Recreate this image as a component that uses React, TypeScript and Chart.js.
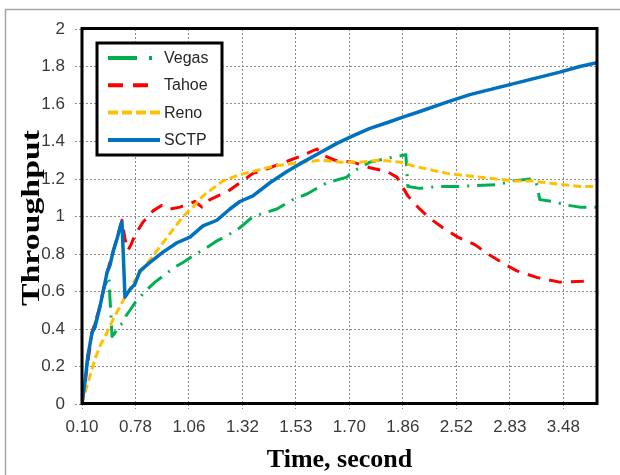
import React, { useEffect, useRef } from 'react';
import { Chart, registerables } from 'chart.js';

Chart.register(...registerables);

// x positions are in "tick index" units (0 = first labelled tick "0.10", 1 = "0.78", ...)
const TICK_LABELS = ['0.10', '0.78', '1.06', '1.32', '1.53', '1.70', '1.86', '2.52', '2.83', '3.48'];
const X_MAX = 9.63;
const Y_MIN = 0;
const Y_MAX = 2;
const Y_STEP = 0.2;

const SERIES_NAMES = ['Vegas', 'Tahoe', 'Reno', 'SCTP'];

const VEGAS_X = [0, 0.056, 0.112, 0.187, 0.28, 0.411, 0.505, 0.523, 0.542, 0.561, 0.617, 0.692, 0.766, 0.822, 0.897, 0.991, 1.084, 1.215, 1.364, 1.551, 1.738, 1.888, 2.075, 2.336, 2.523, 2.729, 2.953, 3.196, 3.421, 3.645, 3.944, 4.206, 4.579, 4.953, 5.065, 5.383, 5.701, 5.888, 6.056, 6.093, 6.318, 6.636, 7.065, 7.383, 7.776, 8.056, 8.374, 8.486, 8.561, 8.804, 9.084, 9.308, 9.626];
const VEGAS_Y = [0, 0.12, 0.26, 0.38, 0.46, 0.62, 0.68, 0.56, 0.48, 0.36, 0.38, 0.42, 0.43, 0.47, 0.5, 0.54, 0.57, 0.61, 0.65, 0.69, 0.73, 0.755, 0.79, 0.835, 0.87, 0.9, 0.94, 1.0, 1.02, 1.04, 1.09, 1.12, 1.18, 1.21, 1.24, 1.29, 1.31, 1.32, 1.33, 1.16, 1.15, 1.16, 1.16, 1.165, 1.17, 1.19, 1.2, 1.19, 1.09, 1.08, 1.06, 1.05, 1.05];

const TAHOE_X = [0, 0.187, 0.336, 0.467, 0.579, 0.729, 0.748, 0.804, 0.86, 0.916, 0.991, 1.14, 1.327, 1.495, 1.645, 1.832, 1.925, 2.112, 2.243, 2.393, 2.542, 2.71, 2.953, 3.196, 3.421, 3.701, 4.075, 4.393, 4.486, 4.729, 5.065, 5.383, 5.701, 5.888, 6.093, 6.28, 6.505, 6.748, 7.028, 7.346, 7.589, 7.907, 8.131, 8.505, 8.935, 9.364, 9.533];
const TAHOE_Y = [0, 0.38, 0.52, 0.7, 0.81, 0.96, 0.98, 0.88, 0.82, 0.85, 0.9, 0.97, 1.03, 1.06, 1.04, 1.05, 1.06, 1.08, 1.05, 1.09, 1.11, 1.13, 1.18, 1.23, 1.25, 1.28, 1.32, 1.36, 1.33, 1.3, 1.29, 1.26, 1.24, 1.21, 1.11, 1.05, 0.99, 0.94, 0.89, 0.85, 0.8, 0.745, 0.71, 0.675, 0.65, 0.655, 0.665];

const RENO_X = [0, 0.075, 0.15, 0.243, 0.336, 0.467, 0.579, 0.71, 0.86, 0.991, 1.14, 1.327, 1.514, 1.701, 1.888, 2.075, 2.262, 2.449, 2.636, 2.822, 3.047, 3.327, 3.607, 3.888, 4.168, 4.449, 4.822, 5.196, 5.57, 5.944, 6.187, 6.505, 6.822, 7.121, 7.439, 7.757, 8.056, 8.374, 8.692, 8.991, 9.308, 9.626];
const RENO_Y = [0, 0.08, 0.15, 0.24, 0.31, 0.38, 0.45, 0.52, 0.6, 0.66, 0.72, 0.79, 0.86, 0.93, 1.0, 1.05, 1.11, 1.15, 1.19, 1.21, 1.23, 1.25, 1.27, 1.28, 1.29, 1.3, 1.29, 1.29, 1.3, 1.29, 1.27, 1.25, 1.23, 1.22, 1.21, 1.2, 1.19, 1.19, 1.18, 1.17, 1.16, 1.16];

const SCTP_X = [0, 0.056, 0.112, 0.187, 0.243, 0.336, 0.411, 0.467, 0.523, 0.579, 0.654, 0.729, 0.748, 0.804, 0.897, 0.991, 1.084, 1.271, 1.514, 1.776, 2.019, 2.262, 2.523, 2.766, 2.953, 3.196, 3.514, 3.832, 4.131, 4.449, 4.766, 5.065, 5.383, 5.701, 6.0, 6.318, 6.822, 7.252, 7.813, 8.374, 8.935, 9.308, 9.626];
const SCTP_Y = [0, 0.12, 0.26, 0.38, 0.41, 0.52, 0.62, 0.7, 0.74, 0.81, 0.88, 0.96, 0.97, 0.57, 0.61, 0.64, 0.71, 0.755, 0.81, 0.86, 0.89, 0.95, 0.98, 1.04, 1.08, 1.11, 1.18, 1.24, 1.29, 1.34, 1.39, 1.43, 1.47, 1.5, 1.53, 1.56, 1.61, 1.65, 1.69, 1.73, 1.77, 1.8, 1.82];

const X_TITLE = 'Time, second';
const Y_TITLE = 'Throughput';

const COLORS = ['#00B050', '#FF0000', '#FFC000', '#0070C0'];
const PLOT_DASH = [[18, 8, 2, 8], [13, 9], [8, 4], []];
const LEGEND_DASH = [[29, 12, 3, 200], [15, 10], [10, 4], []];
const LEGEND_END = [160, 150, 160, 160];

const TICK_FONT = { family: '"Liberation Sans", Arial, sans-serif', size: 17 };
const TICK_COLOR = '#3a3a3a';
const GRID_COLOR = '#8c8c8c';

const decor = {
  id: 'decor',
  beforeDraw(chart: any) {
    const ctx = chart.ctx;
    ctx.save();
    ctx.fillStyle = '#ffffff';
    ctx.fillRect(0, 0, chart.width, chart.height);
    ctx.strokeStyle = '#a6a6a6';
    ctx.lineWidth = 1.5;
    ctx.beginPath();
    ctx.moveTo(5.5, 475);
    ctx.lineTo(5.5, 9.5);
    ctx.lineTo(620, 9.5);
    ctx.stroke();
    ctx.restore();
  },
  afterDraw(chart: any) {
    const ctx = chart.ctx;
    const a = chart.chartArea;
    ctx.save();
    // plot frame
    ctx.strokeStyle = '#000';
    ctx.lineWidth = 3;
    ctx.setLineDash([]);
    ctx.strokeRect(a.left, a.top - 0.5, a.right - a.left, a.bottom - a.top);

    // legend
    const lx = 97, ly = 43, lw = 125, lh = 112;
    ctx.fillStyle = '#fff';
    ctx.fillRect(lx, ly, lw, lh);
    ctx.lineWidth = 3;
    ctx.strokeRect(lx, ly, lw, lh);
    SERIES_NAMES.forEach((name, i) => {
      const y = 58 + i * 27.3;
      ctx.beginPath();
      ctx.strokeStyle = COLORS[i];
      ctx.lineWidth = 4;
      ctx.lineCap = 'butt';
      ctx.setLineDash(LEGEND_DASH[i]);
      ctx.moveTo(108, y);
      ctx.lineTo(LEGEND_END[i], y);
      ctx.stroke();
      ctx.setLineDash([]);
      ctx.fillStyle = '#262626';
      ctx.font = '16px "Liberation Sans", Arial, sans-serif';
      ctx.textAlign = 'left';
      ctx.textBaseline = 'middle';
      ctx.fillText(name, 164, y + 0.5);
    });

    // axis titles
    ctx.fillStyle = '#000';
    ctx.font = 'bold 26px "Liberation Serif", "Times New Roman", serif';
    ctx.textAlign = 'center';
    ctx.textBaseline = 'alphabetic';
    ctx.fillText(X_TITLE, (a.left + a.right) / 2, 467);

    ctx.save();
    ctx.translate(39, 218);
    ctx.rotate(-Math.PI / 2);
    const w = ctx.measureText(Y_TITLE).width;
    ctx.scale(176 / w, 1);
    ctx.textBaseline = 'alphabetic';
    ctx.fillText(Y_TITLE, 0, 0);
    ctx.restore();

    ctx.restore();
  },
};

export default function App() {
  const ref = useRef<HTMLCanvasElement>(null);
  useEffect(() => {
    const pts = (xs: number[], ys: number[]) => xs.map((x, i) => ({ x, y: ys[i] }));
    const xsAll = [VEGAS_X, TAHOE_X, RENO_X, SCTP_X];
    const ysAll = [VEGAS_Y, TAHOE_Y, RENO_Y, SCTP_Y];
    const chart = new Chart(ref.current as HTMLCanvasElement, {
      type: 'line',
      data: {
        datasets: SERIES_NAMES.map((name, i) => ({
          label: name,
          data: pts(xsAll[i], ysAll[i]),
          borderColor: COLORS[i],
          backgroundColor: COLORS[i],
          borderWidth: i === 3 ? 3.5 : 3,
          borderDash: PLOT_DASH[i],
          pointRadius: 0,
          tension: 0,
          fill: false,
          order: 4 - i,
        })),
      },
      options: {
        animation: false,
        responsive: false,
        devicePixelRatio: 1,
        layout: { padding: { top: 29, right: 23, left: 0, bottom: 0 } },
        plugins: { legend: { display: false }, tooltip: { enabled: false } },
        elements: { line: { borderJoinStyle: 'round' } },
        scales: {
          x: {
            type: 'linear',
            min: 0,
            max: X_MAX,
            afterFit: (s: any) => { s.height = 71; },
            afterBuildTicks: (s: any) => { s.ticks = TICK_LABELS.map((_, i) => ({ value: i })); },
            ticks: {
              callback: (v: any) => TICK_LABELS[v] ?? '',
              font: TICK_FONT,
              color: TICK_COLOR,
              padding: 8,
              maxRotation: 0,
              autoSkip: false,
            },
            grid: { color: GRID_COLOR, lineWidth: 1, tickLength: 5, tickColor: GRID_COLOR, tickBorderDash: [2, 2] },
            border: { display: false, dash: [2, 2] },
          },
          y: {
            min: Y_MIN,
            max: Y_MAX,
            afterFit: (s: any) => { s.width = 82; },
            ticks: {
              stepSize: Y_STEP,
              callback: (v: any) => String(Math.round(v * 10) / 10),
              font: TICK_FONT,
              color: TICK_COLOR,
              padding: 10,
            },
            grid: { color: GRID_COLOR, lineWidth: 1, tickLength: 7, tickColor: GRID_COLOR, tickBorderDash: [2, 2] },
            border: { display: false, dash: [2, 2] },
          },
        },
      },
      plugins: [decor],
    } as any);
    return () => chart.destroy();
  }, []);
  return (
    <div style={{ position: 'absolute', left: 0, top: 0, width: 620, height: 475 }}>
      <canvas ref={ref} width={620} height={475} style={{ display: 'block' }} />
    </div>
  );
}
